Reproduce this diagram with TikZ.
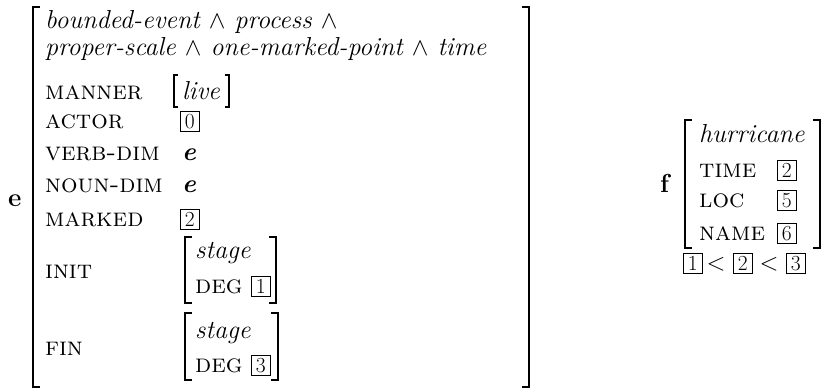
\documentclass[tikz,border=0pt]{standalone}
\usetikzlibrary{math}
\newcommand\avmsize{\fontsize{26}{31}\selectfont}
\newcommand\tagsize{\fontsize{21.5}{22}\selectfont}
\tikzset{
  feat/.style={anchor=base west, inner sep=0pt, font=\avmsize\scshape},
  val/.style={anchor=base west, inner sep=0pt, font=\avmsize\itshape},
  lbl/.style={anchor=base west, inner sep=0pt, font=\avmsize\bfseries},
  tagbox/.style={draw, anchor=base west, line width=0.7pt, inner sep=0pt,
    minimum width=19pt, minimum height=20pt, font=\tagsize},
  brack/.style={line width=2.8pt, line cap=butt, line join=miter},
  subbrack/.style={line width=2.3pt, line cap=butt, line join=miter},
  livebrack/.style={line width=1.4pt, line cap=butt, line join=miter},
}
\begin{document}
\begin{tikzpicture}[x=1pt,y=-1pt]
\tikzmath{
\xl=45;
\xv=180;
\xs=195;
\ytop=7;
\ybot=387;
\xf=699;
\xft=777;
}
\useasboundingbox (0,0) rectangle (823,388);
%label e
\node[lbl] (lble) at (8,206) {e};
%main brackets
\draw[brack] (40,\ytop) -- (33,\ytop) -- (33,\ybot) -- (40,\ybot);
\draw[brack] (522,\ytop) -- (529,\ytop) -- (529,\ybot) -- (522,\ybot);
%type
\node[val] (typea) at (\xl,28) {bounded-event $\wedge$ process $\wedge$};
\node[val] (typeb) at (\xl,56) {proper-scale $\wedge$ one-marked-point $\wedge$ time};
%features
\node[feat] (manner) at (\xl,99) {manner};
\node[val] (live) at (182,99) {live};
\draw[livebrack] (178,75) -- (174,75) -- (174,107) -- (178,107);
\draw[livebrack] (225,75) -- (229,75) -- (229,107) -- (225,107);
\node[feat] (actor) at (\xl,128) {actor};
\node[tagbox] (tagzero) at (\xv,128) {0};
\node[feat] (verbdim) at (\xl,160) {verb-dim};
\node[val, font=\avmsize\bfseries\itshape] (verbe) at (182,160) {e};
\node[feat] (noundim) at (\xl,192) {noun-dim};
\node[val, font=\avmsize\bfseries\itshape] (noune) at (182,192) {e};
\node[feat] (marked) at (\xl,226) {marked};
\node[tagbox] (tagtwo) at (\xv,226) {2};
%init
\node[feat] (init) at (\xl,278) {init};
\draw[subbrack] (192,237) -- (185,237) -- (185,303) -- (192,303);
\draw[subbrack] (269,237) -- (276,237) -- (276,303) -- (269,303);
\node[val] (stagea) at (\xs,258) {stage};
\node[feat] (dega) at (\xs,293) {deg};
\node[tagbox] (tagone) at (251,293) {1};
%fin
\node[feat] (fin) at (\xl,355) {fin};
\draw[subbrack] (192,313) -- (185,313) -- (185,380) -- (192,380);
\draw[subbrack] (271,313) -- (278,313) -- (278,380) -- (271,380);
\node[val] (stageb) at (\xs,338) {stage};
\node[feat] (degb) at (\xs,372) {deg};
\node[tagbox] (tagthree) at (251,372) {3};
%label f
\node[lbl] (lblf) at (660,192) {f};
\draw[brack] (692,120) -- (685,120) -- (685,248) -- (692,248);
\draw[brack] (813,120) -- (820,120) -- (820,248) -- (813,248);
\node[val] (hurr) at (\xf,142) {hurricane};
\node[feat] (time) at (\xf,177) {time};
\node[tagbox] (ftwo) at (\xft,177) {2};
\node[feat] (loc) at (\xf,207) {loc};
\node[tagbox] (ffive) at (\xft,207) {5};
\node[feat] (name) at (\xf,240) {name};
\node[tagbox] (fsix) at (\xft,240) {6};
%order
\node[tagbox] (oone) at (683,270) {1};
\node[anchor=base, inner sep=0pt, font=\avmsize] (lta) at (716,270) {$<$};
\node[tagbox] (otwo) at (733,270) {2};
\node[anchor=base, inner sep=0pt, font=\avmsize] (ltb) at (769,270) {$<$};
\node[tagbox] (othree) at (786,270) {3};
\end{tikzpicture}
\end{document}
